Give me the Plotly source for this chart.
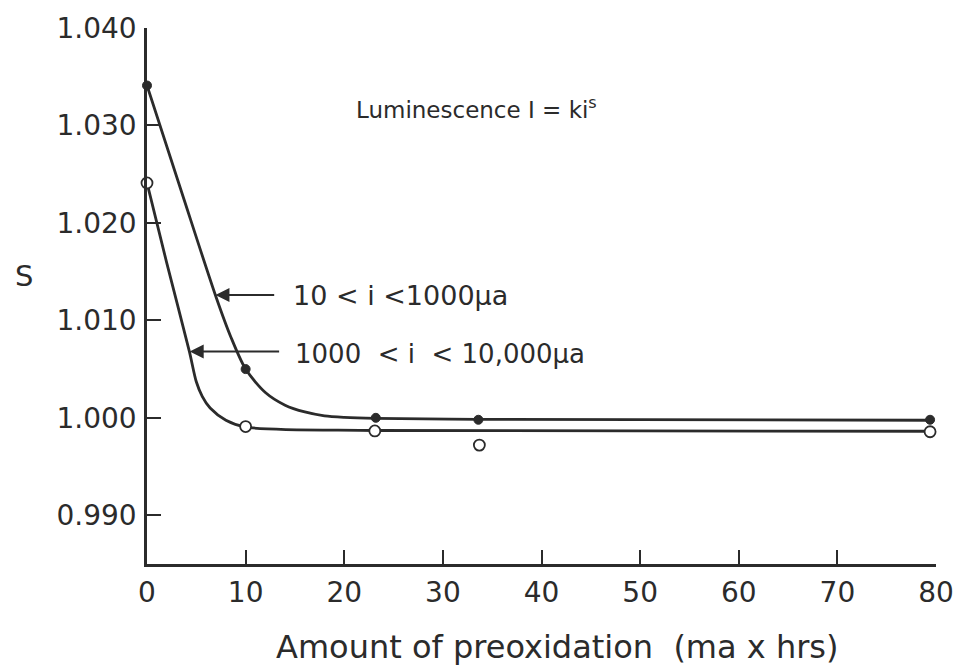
import plotly.graph_objects as go

# Measured points: luminescence exponent S vs. amount of preoxidation
x_low = [0, 10, 23.2, 33.6, 79.4]          # 10 < i < 1000 µa (filled)
s_low = [1.0341, 1.0050, 1.0000, 0.9998, 0.9998]

x_high = [0, 10, 23.1, 33.7, 79.4]          # 1000 < i < 10,000 µa (open)
s_high = [1.0241, 0.9991, 0.99865, 0.9972, 0.99857]

# Hand-fitted smooth curves through each series
fit_low_x = [0, 3.5, 7, 8.5, 10, 12, 14, 16, 18, 20, 23.2, 33.6, 79.4]
fit_low_s = [1.0341, 1.0232, 1.0124, 1.0083, 1.0050, 1.0026, 1.0013, 1.0006,
             1.0002, 1.00005, 0.99995, 0.99985, 0.99975]

fit_high_x = [0, 2, 4.3, 5.0, 5.6, 6.4, 8, 10, 23.1, 79.4]
fit_high_s = [1.0241, 1.0159, 1.0068, 1.0037, 1.0022, 1.0010, 0.99975,
              0.99905, 0.99870, 0.99862]

y_ticks = [0.990, 1.000, 1.010, 1.020, 1.030, 1.040]
y_tick_text = ["0.990", "1.000", "1.010", "1.020", "1.030", "1.040"]
x_ticks = [0, 10, 20, 30, 40, 50, 60, 70, 80]

INK = "#2b2b2b"
FONT = "DejaVu Sans"

fig = go.Figure()

fig.add_trace(go.Scatter(x=fit_low_x, y=fit_low_s, mode="lines",
                         line=dict(color=INK, width=2.8, shape="spline", smoothing=0.8),
                         hoverinfo="skip", cliponaxis=False))
fig.add_trace(go.Scatter(x=fit_high_x, y=fit_high_s, mode="lines",
                         line=dict(color=INK, width=2.8, shape="spline", smoothing=0.8),
                         hoverinfo="skip", cliponaxis=False))
fig.add_trace(go.Scatter(x=x_low, y=s_low, mode="markers",
                         marker=dict(symbol="circle", size=9, color=INK,
                                     line=dict(color=INK, width=1)),
                         cliponaxis=False))
fig.add_trace(go.Scatter(x=x_high, y=s_high, mode="markers",
                         marker=dict(symbol="circle", size=11, color="white",
                                     line=dict(color=INK, width=1.8)),
                         cliponaxis=False))

axis_common = dict(
    showline=True, linecolor=INK, linewidth=2.5,
    ticks="inside", ticklen=14, tickwidth=2, tickcolor=INK,
    showgrid=False, zeroline=False,
    tickfont=dict(family=FONT, size=28, color=INK),
)

fig.update_xaxes(range=[0, 80], tickvals=x_ticks, ticklabelstandoff=2, **axis_common)
fig.update_yaxes(range=[0.985, 1.040], tickvals=y_ticks, ticktext=y_tick_text,
                 ticklabelstandoff=2, **axis_common)

annotations = [
    # arrows pointing at the two curves
    dict(x=6.94, y=1.0126, ax=13.2, ay=1.0126, xref="x", yref="y",
         axref="x", ayref="y", text=" ", showarrow=True,
         arrowhead=2, arrowsize=1.4, arrowwidth=2, arrowcolor=INK),
    dict(x=4.33, y=1.0068, ax=13.7, ay=1.0068, xref="x", yref="y",
         axref="x", ayref="y", text=" ", showarrow=True,
         arrowhead=2, arrowsize=1.4, arrowwidth=2, arrowcolor=INK),
    dict(x=14.6, y=1.0126, xref="x", yref="y", xanchor="left", yanchor="middle",
         text="10 < i <1000µa", showarrow=False,
         font=dict(family=FONT, size=27, color=INK)),
    dict(x=14.8, y=1.0066, xref="x", yref="y", xanchor="left", yanchor="middle",
         text="1000  < i  < 10,000µa", showarrow=False,
         font=dict(family=FONT, size=26, color=INK)),
    dict(x=21.0, y=1.0318, xref="x", yref="y", xanchor="left", yanchor="middle",
         text="Luminescence I = ki<sup>s</sup>", showarrow=False,
         font=dict(family=FONT, size=23, color=INK)),
    # axis titles
    dict(x=-0.156, y=0.537, xref="paper", yref="paper", xanchor="center",
         yanchor="middle", text="S", showarrow=False,
         font=dict(family=FONT, size=29, color=INK)),
    dict(x=0.52, y=-0.155, xref="paper", yref="paper", xanchor="center",
         yanchor="middle", text="Amount of preoxidation  (ma x hrs)", showarrow=False,
         font=dict(family=FONT, size=32, color=INK)),
]

fig.update_layout(
    width=966, height=665,
    margin=dict(l=147, r=24, t=22, b=101),
    paper_bgcolor="white", plot_bgcolor="white",
    showlegend=False,
    annotations=annotations,
)

fig.write_html("out.html")
